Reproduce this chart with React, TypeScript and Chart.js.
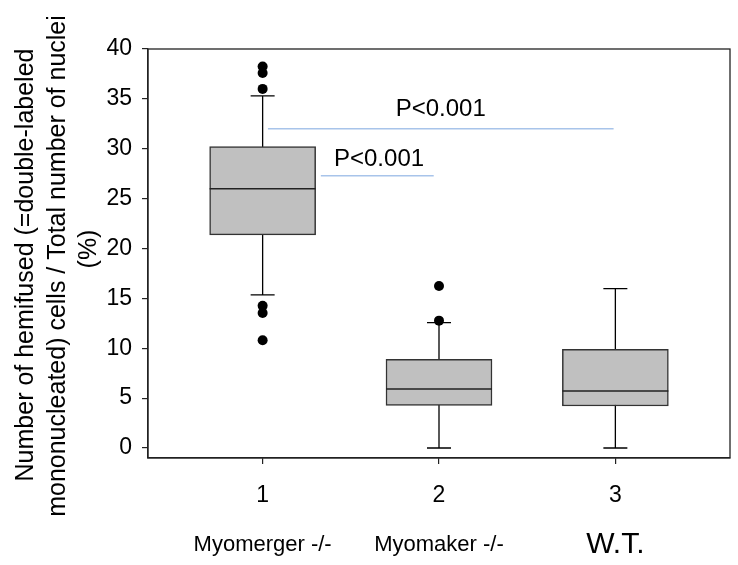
import { useEffect, useRef } from "react";
import { Chart, registerables } from "chart.js";

Chart.register(...registerables);

const categories = ["Myomerger -/-", "Myomaker -/-", "W.T."];
const positions = [1, 2, 3];
const tickLabels = ["1", "2", "3"];
const yTicks = [0, 5, 10, 15, 20, 25, 30, 35, 40];
const q1 = [21.37, 4.28, 4.21];
const medians = [25.98, 5.92, 5.72];
const q3 = [30.23, 8.9, 9.9];
const whiskerLow = [15.35, 0, 0];
const whiskerHigh = [35.3, 12.57, 15.98];
const outliers = [[38.25, 37.6, 36.0, 14.25, 13.54, 10.8], [16.25, 12.77], []];
const sigFrom = [1.03, 1.33];
const sigTo = [2.99, 1.97];
const sigY = [32.0, 27.3];
const sigLabels = ["P<0.001", "P<0.001"];
const sigLabelX = [2.01, 1.66];
const sigLabelY = [33.33, 28.28];
const yTitleLines = [
  "Number of hemifused (=double-labeled",
  "mononucleated) cells / Total number of nuclei",
  "(%)",
];

const FONT = "'Liberation Sans', Arial, sans-serif";

const extrasPlugin = {
  id: "boxExtras",
  beforeDatasetsDraw(chart: any) {
    const { ctx, scales } = chart;
    const x = scales.x;
    const y = scales.y;
    ctx.save();
    ctx.strokeStyle = "#000";
    ctx.lineWidth = 1.3;
    positions.forEach((p, i) => {
      const px = x.getPixelForValue(p);
      const lo = y.getPixelForValue(whiskerLow[i]);
      const hi = y.getPixelForValue(whiskerHigh[i]);
      const cap = 12;
      ctx.beginPath();
      ctx.moveTo(px, lo);
      ctx.lineTo(px, hi);
      ctx.moveTo(px - cap, lo);
      ctx.lineTo(px + cap, lo);
      ctx.moveTo(px - cap, hi);
      ctx.lineTo(px + cap, hi);
      ctx.stroke();
    });
    ctx.restore();
  },
  afterDatasetsDraw(chart: any) {
    const { ctx, scales } = chart;
    const x = scales.x;
    const y = scales.y;
    const meta = chart.getDatasetMeta(1);
    ctx.save();
    ctx.strokeStyle = "#222";
    ctx.lineWidth = 1.5;
    medians.forEach((m, i) => {
      const el: any = meta.data[i];
      const half = el.width / 2;
      const py = y.getPixelForValue(m);
      ctx.beginPath();
      ctx.moveTo(el.x - half, py);
      ctx.lineTo(el.x + half, py);
      ctx.stroke();
    });
    ctx.strokeStyle = "#a8c4ea";
    ctx.lineWidth = 1.6;
    sigFrom.forEach((f, i) => {
      const py = y.getPixelForValue(sigY[i]);
      ctx.beginPath();
      ctx.moveTo(x.getPixelForValue(f), py);
      ctx.lineTo(x.getPixelForValue(sigTo[i]), py);
      ctx.stroke();
    });
    ctx.fillStyle = "#000";
    ctx.font = `24px ${FONT}`;
    ctx.textAlign = "center";
    ctx.textBaseline = "alphabetic";
    sigLabels.forEach((t, i) => {
      ctx.fillText(t, x.getPixelForValue(sigLabelX[i]), y.getPixelForValue(sigLabelY[i]));
    });
    ctx.restore();
  },
  afterDraw(chart: any) {
    const { ctx, chartArea, scales } = chart;
    const x = scales.x;
    ctx.save();
    ctx.strokeStyle = "#222";
    ctx.lineWidth = 1.3;
    ctx.strokeRect(chartArea.left, chartArea.top, chartArea.right - chartArea.left, chartArea.bottom - chartArea.top);

    ctx.fillStyle = "#000";
    ctx.textAlign = "center";
    ctx.textBaseline = "alphabetic";
    categories.forEach((c, i) => {
      ctx.font = i === 2 ? `30px ${FONT}` : `22px ${FONT}`;
      ctx.fillText(c, x.getPixelForValue(positions[i]), i === 2 ? 553 : 551);
    });

    ctx.font = `25px ${FONT}`;
    const baseX = [33, 65, 96];
    const centerY = [265, 266, 249];
    yTitleLines.forEach((t, i) => {
      ctx.save();
      ctx.translate(baseX[i], centerY[i]);
      ctx.rotate(-Math.PI / 2);
      ctx.fillText(t, 0, 0);
      ctx.restore();
    });
    ctx.restore();
  },
};

export default function App() {
  const ref = useRef<HTMLCanvasElement | null>(null);
  useEffect(() => {
    if (!ref.current) return;
    const outlierPoints: { x: number; y: number }[] = [];
    outliers.forEach((arr, i) => arr.forEach((v) => outlierPoints.push({ x: positions[i], y: v })));
    const chart = new Chart(ref.current, {
      type: "bar",
      data: {
        datasets: [
          {
            type: "scatter",
            label: "outliers",
            data: outlierPoints,
            pointRadius: 5,
            pointBackgroundColor: "#000",
            pointBorderWidth: 0,
          } as any,
          {
            type: "bar",
            label: "boxes",
            data: positions.map((p, i) => ({ x: p, y: [q1[i], q3[i]] })) as any,
            backgroundColor: "#c0c0c0",
            borderColor: "#333",
            borderWidth: 1.5,
            borderSkipped: false,
            barThickness: 106,
          } as any,
        ],
      },
      options: {
        animation: false,
        responsive: false,
        devicePixelRatio: 1,
        layout: { padding: { top: 49, right: 8, left: 0, bottom: 0 } },
        plugins: { legend: { display: false }, tooltip: { enabled: false } },
        scales: {
          x: {
            type: "linear",
            min: 0.35,
            max: 3.65,
            offset: false,
            afterBuildTicks: (s: any) => {
              s.ticks = positions.map((v) => ({ value: v }));
            },
            afterFit: (s: any) => {
              s.height = 107;
            },
            ticks: {
              callback: (v: any) => tickLabels[positions.indexOf(Number(v))] ?? "",
              font: { family: FONT, size: 23 },
              color: "#000",
              padding: 18,
              maxRotation: 0,
            },
            grid: { display: true, offset: false, drawOnChartArea: false, drawTicks: true, tickLength: 6, color: "#222", lineWidth: 1.2 },
            border: { display: true, color: "#222", width: 1.3 },
          },
          y: {
            type: "linear",
            min: -1,
            max: 40,
            afterBuildTicks: (s: any) => {
              s.ticks = yTicks.map((v) => ({ value: v }));
            },
            afterFit: (s: any) => {
              s.width = 148;
            },
            ticks: {
              font: { family: FONT, size: 23 },
              color: "#000",
              padding: 10,
            },
            grid: { display: true, offset: false, drawOnChartArea: false, drawTicks: true, tickLength: 6, color: "#222", lineWidth: 1.2 },
            border: { display: true, color: "#222", width: 1.3 },
          },
        },
      },
      plugins: [extrasPlugin],
    } as any);
    return () => chart.destroy();
  }, []);
  return (
    <div style={{ position: "absolute", left: 0, top: 0, width: 738, height: 565, background: "#fff" }}>
      <canvas ref={ref} width={738} height={565} style={{ display: "block" }} />
    </div>
  );
}
